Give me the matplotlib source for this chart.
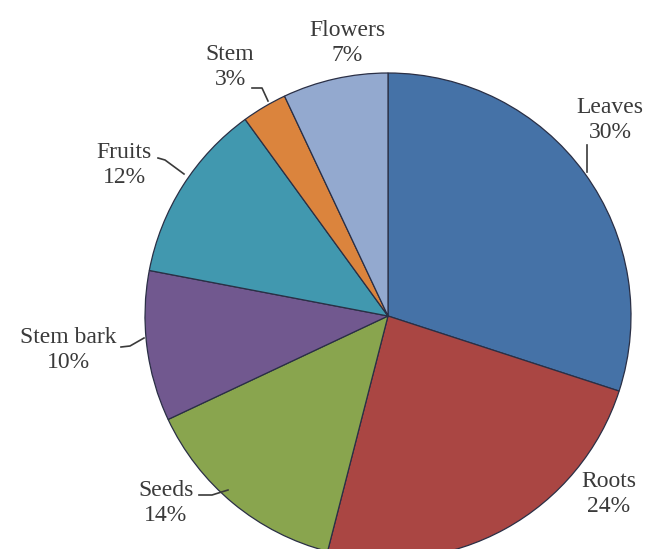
import matplotlib.pyplot as plt
import numpy as np

labels = ['Leaves', 'Roots', 'Seeds', 'Stem bark', 'Fruits', 'Stem', 'Flowers']
values = [30, 24, 14, 10, 12, 3, 7]
colors = ['#4572A7', '#AA4643', '#89A54E', '#71588F', '#4198AF', '#DB843D', '#93A9CF']

# label anchors in pixel coords (x, y of the text centre)
label_pos = {
    'Leaves': (610, 120),
    'Roots': (609, 494),
    'Seeds': (166, 503),
    'Stem bark': (68, 350),
    'Fruits': (124, 165),
    'Stem': (230, 67),
    'Flowers': (347, 43),
}
# leader lines (pixel polylines), empty where there is none
leaders = {
    'Leaves': [(587, 145), (587, 172)],
    'Roots': [],
    'Seeds': [(199, 495), (212, 495), (228, 490)],
    'Stem bark': [(121, 347), (130, 346), (144, 338)],
    'Fruits': [(158, 158), (165, 160), (184, 174)],
    'Stem': [(252, 88), (262, 88), (268, 101)],
    'Flowers': [],
}

plt.rcParams['font.family'] = ['Liberation Serif', 'DejaVu Serif']

fig = plt.figure(figsize=(6.53, 5.49), dpi=100)
ax = fig.add_axes([0, 0, 1, 1])

cx, cy, r = 388, 316, 243
ax.pie(values, colors=colors, center=(cx, cy), radius=r,
       startangle=270, counterclock=True,
       wedgeprops=dict(edgecolor='#2a2f45', linewidth=0.9))

for lab, v in zip(labels, values):
    x, y = label_pos[lab]
    ax.text(x, y, "%s\n%d%%" % (lab, v), ha='center', va='center',
            fontsize=17, color='#3a3a3a', linespacing=1.3)
    pts = leaders[lab]
    if pts:
        ax.plot([p[0] for p in pts], [p[1] for p in pts], color='#3a3a3a', lw=1.2)

ax.set_xlim(0, 653)
ax.set_ylim(549, 0)
ax.set_aspect('equal')
ax.axis('off')

plt.savefig("out.png", dpi=100)
